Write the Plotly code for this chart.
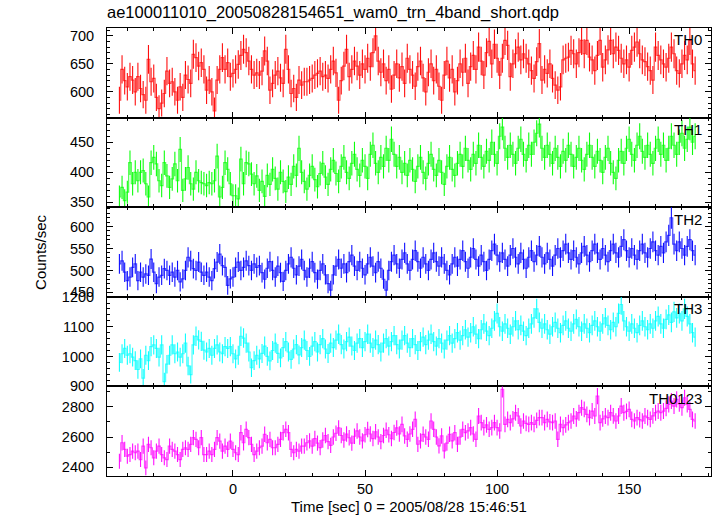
import numpy as np
import plotly.graph_objects as go
from plotly.subplots import make_subplots

# ---------------- data (1 s bins, first bin centre at T0) ----------------
T0 = -43
BIN = 1.0

TH0 = [
    585, 640, 620, 609, 627, 621, 600, 627, 606, 595,
    585, 658, 618, 624, 590, 570, 580, 597, 637, 615,
    618, 600, 585, 609, 590, 630, 622, 615, 667, 661,
    646, 652, 640, 603, 621, 600, 566, 621, 640, 661,
    640, 652, 627, 633, 640, 649, 665, 676, 670, 655,
    640, 630, 634, 630, 637, 673, 655, 603, 615, 630,
    637, 625, 615, 676, 640, 597, 606, 590, 621, 612,
    618, 618, 621, 624, 630, 633, 637, 627, 630, 624,
    640, 655, 634, 585, 620, 646, 676, 627, 640, 655,
    646,
    630, 650, 640, 660, 645, 670, 700, 655, 635, 650,
    620, 640, 605, 630, 650, 625, 645, 615, 660, 640,
    630, 610, 645, 655, 625, 600, 635, 650, 620, 640,
    610, 585, 630, 655, 625, 640, 600, 620, 650, 635,
    660, 615, 645, 665, 640, 680, 655, 630, 670, 690,
    650, 685, 660,
    630, 660, 692, 683, 627, 650, 668, 680, 657, 668,
    660, 650, 638, 624, 654, 686, 621, 640, 633, 650,
    624, 612, 603, 609, 657, 660, 662, 674, 668, 650,
    670, 692, 668, 692, 662, 657, 638, 665, 692, 644,
    657, 675, 692, 668, 680, 674, 660, 650, 657, 644,
    674, 680, 689, 668, 657, 654, 645, 638, 621, 680,
    665, 657, 650, 644, 660, 680, 668, 638, 633, 650,
    665, 657, 692, 650, 638,
]

TH1 = [
    359, 375, 353, 367, 416, 381, 400, 386, 400, 403,
    381, 359, 416, 425, 414, 386, 378, 416, 394, 375,
    389, 414, 386, 438, 370, 389, 408, 381, 372, 400,
    386, 383, 381, 378, 383, 381, 386, 427, 359, 375,
    416, 405, 381, 361, 361, 356, 422, 381, 416, 414,
    397, 381, 394,
    370, 385, 360, 395, 380, 405, 390, 372, 400, 385,
    368, 392, 380, 410, 395, 440, 400, 385, 372, 395,
    410, 388, 376, 398, 415, 392, 380, 405, 420, 398,
    385, 410, 425, 400, 390, 415, 430, 405, 395, 420,
    410, 390, 430, 445, 415, 400, 425, 410, 440, 420,
    455, 430, 410, 425, 400, 415, 395, 420, 405, 385,
    410, 425, 400, 390, 415, 430, 405, 395, 420, 400,
    380, 410, 425, 405, 395, 415, 430, 410, 440, 420,
    405, 430, 415, 445, 425, 410, 435, 420, 450, 430,
    415, 460, 475, 440, 425, 445, 430, 415, 440, 455,
    430, 420, 445, 430, 450, 465, 480, 440, 425, 445,
    430, 415, 440, 425, 410, 435, 420, 445, 430, 410,
    425, 440, 420, 405, 430, 445, 425, 410, 435, 420,
    400, 425, 440, 415, 400, 390, 420, 435, 415, 440,
    455, 430, 420, 445, 460, 435, 425, 445, 430, 415,
    440, 455, 430, 445, 420, 440, 460, 445, 430, 450,
    465, 440, 455, 475, 450, 460,
]

TH2 = [
    515, 522, 496, 477, 485, 507, 515, 477, 496, 485,
    492, 489, 526, 496, 470, 485, 489, 504, 500, 489,
    496, 485, 500, 474, 481, 500, 530, 522, 504, 500,
    519, 496, 489, 496, 485, 477, 504, 519, 537, 511,
    507, 466, 481, 485, 507, 519, 500, 507, 522, 511,
    500, 515, 507, 511,
    495, 480, 505, 520, 500, 485, 510, 495, 475, 500,
    515, 530, 505, 490, 510, 525, 500, 485, 505, 520,
    495, 480, 500, 515, 490, 470, 455, 490, 510, 525,
    505, 515, 495, 520, 535, 510, 500, 520, 505, 490,
    515, 530, 510, 495, 520, 505, 480, 455, 500, 520,
    535, 515, 505, 525, 540, 515, 500, 525, 545, 520,
    505, 530, 515, 500, 525, 540, 520, 510, 530, 515,
    500, 490, 515, 530, 510, 525, 545, 520, 505, 530,
    550, 525, 510, 535, 520, 500, 525, 545, 560, 535,
    520, 540, 525, 510, 535, 550, 530, 515, 540, 525,
    505, 530, 545, 520, 535, 555, 530, 515, 540, 525,
    510, 535, 550, 530, 545, 560, 540, 525, 545, 530,
    515, 540, 555, 535, 520, 545, 560, 540, 525, 550,
    535, 520, 545, 560, 540, 530, 555, 570, 545, 530,
    550, 535, 525, 545, 560, 540, 530, 550, 565, 545,
    535, 555, 540, 565, 580, 620, 560, 545, 565, 550,
    535, 555, 570, 545, 535,
]

TH3 = [
    980, 1009, 1027, 1004, 1009, 998, 986, 956, 992, 927,
    1004, 986, 1033, 1039, 1027, 998, 1039, 915, 974, 1004,
    1039, 1009, 1015, 998, 1009, 1045, 968, 939, 1039, 1068,
    1056, 1051, 1021, 1015, 1027, 1004, 1027, 1039, 1015, 1009,
    1033, 1027, 1033, 1009, 992, 1004, 1068, 1062, 1045, 1015,
    962, 986, 1004, 992,
    1010, 1035, 1000, 985, 1020, 1045, 1010, 995, 1030, 1050,
    1015, 990, 1025, 1040, 1005, 1030, 1055, 1020, 1000, 1035,
    1050, 1015, 1040, 1060, 1025, 1010, 1045, 1030, 1055, 1075,
    1040, 1025, 1050, 1065, 1035, 1020, 1045, 1060, 1030, 1050,
    1075, 1045, 1030, 1055, 1040, 1015, 1045, 1060, 1035, 1050,
    1070, 1040, 1025, 1055, 1070, 1045, 1030, 1060, 1040, 1020,
    1050, 1065, 1040, 1055, 1075, 1050, 1035, 1060, 1045, 1025,
    1055, 1070, 1045, 1060, 1080, 1055, 1070, 1090, 1065, 1080,
    1100, 1075, 1060, 1090, 1110, 1085, 1070, 1095, 1120, 1145,
    1100, 1085, 1110, 1095, 1075, 1100, 1120, 1090, 1105, 1085,
    1070, 1095, 1110, 1130, 1160, 1115, 1095, 1110, 1090, 1075,
    1100, 1115, 1095, 1080, 1105, 1120, 1095, 1085, 1110, 1125,
    1100, 1085, 1110, 1095, 1080, 1105, 1120, 1100, 1085, 1110,
    1130, 1105, 1090, 1115, 1100, 1145, 1175, 1120, 1100, 1085,
    1110, 1095, 1080, 1105, 1120, 1100, 1090, 1110, 1095, 1120,
    1135, 1110, 1095, 1125, 1140, 1115, 1150, 1130, 1145, 1120,
    1160, 1135, 1110, 1080, 1065,
]

TH0123 = [
    2440, 2562, 2518, 2473, 2484, 2507, 2496, 2507, 2451, 2540,
    2396, 2551, 2529, 2462, 2507, 2540, 2484, 2462, 2451, 2540,
    2518, 2507, 2484, 2451, 2518, 2529, 2518, 2551, 2596, 2584,
    2529, 2596, 2484, 2484, 2507, 2484, 2518, 2596, 2573, 2507,
    2540, 2518, 2573, 2518, 2496, 2484, 2629, 2562, 2651, 2596,
    2551, 2484, 2507, 2529, 2540, 2618, 2562, 2584, 2529, 2529,
    2551, 2584, 2629, 2651, 2629, 2518, 2496, 2518, 2507, 2540,
    2540, 2562,
    2575, 2540, 2590, 2560, 2530, 2580, 2610, 2570, 2545, 2600,
    2625, 2660, 2610, 2580, 2620, 2595, 2560, 2605, 2640, 2600,
    2575, 2615, 2650, 2620, 2590, 2635, 2600, 2570, 2610, 2645,
    2615, 2590, 2630, 2660, 2620,
    2684, 2607, 2585, 2620, 2651, 2717, 2552, 2574, 2618, 2600,
    2585, 2706, 2651, 2600, 2541, 2607, 2508, 2560, 2618, 2574,
    2629, 2552, 2600, 2651, 2629, 2640, 2662, 2620, 2585, 2739,
    2695, 2662, 2680, 2651, 2662, 2695, 2662, 2640, 2915, 2684,
    2717, 2695, 2720, 2761, 2739, 2673, 2706, 2690, 2684, 2695,
    2684, 2710, 2728, 2728, 2695, 2717, 2700, 2695, 2706, 2585,
    2684, 2662, 2680, 2695, 2706, 2739, 2720, 2761, 2794, 2783,
    2750, 2728, 2772, 2739, 2871, 2695, 2720, 2739, 2728, 2761,
    2740, 2706, 2739, 2805, 2761, 2770, 2783, 2717, 2706, 2728,
    2715, 2706, 2739, 2728, 2717, 2740, 2761, 2772, 2761, 2772,
    2790, 2816, 2838, 2805, 2849, 2820, 2794, 2860, 2816, 2783,
    2717, 2706,
]

NAMES = ["TH0", "TH1", "TH2", "TH3", "TH0123"]
SERIES = [TH0, TH1, TH2, TH3, TH0123]
X_RANGE = [-47.7, 181.0]
Y_RANGES = [[554, 714], [342, 491], [440, 644], [899, 1201], [2342, 2935]]
Y_DTICK = [50, 50, 50, 100, 200]
Y_MINOR = [10, 10, 10, 20, 100]
COLORS = [(255, 0, 0), (0, 255, 0), (0, 0, 255), (0, 255, 255), (255, 0, 255)]

TITLE = "ae100011010_20050828154651_wam0_trn_4band_short.qdp"
XTITLE = "Time [sec] 0 = 2005/08/28 15:46:51"
YTITLE = "Counts/sec"

FONT = "Liberation Sans, Arial, Helvetica, sans-serif"

fig = make_subplots(rows=5, cols=1, shared_xaxes=True, vertical_spacing=0)

for i, (name, vals, col) in enumerate(zip(NAMES, SERIES, COLORS)):
    v = np.array(vals, dtype=float)
    t = T0 + np.arange(len(v)) * BIN
    err = np.sqrt(v * BIN) / BIN
    r, g, b = col
    fig.add_trace(go.Scatter(
        x=t, y=v, mode="lines",
        line=dict(color=f"rgba({r},{g},{b},0.7)", width=1.2, shape="hvh"),
        error_y=dict(type="data", array=err, visible=True, thickness=1.1,
                     width=0, color=f"rgba({r},{g},{b},0.95)"),
        showlegend=False, hoverinfo="skip",
    ), row=i + 1, col=1)

    fig.update_xaxes(row=i + 1, col=1, range=X_RANGE, tick0=0, dtick=50,
                     ticks="inside", ticklen=6, tickcolor="black", tickwidth=1,
                     showline=True, linecolor="black", linewidth=1, mirror="ticks",
                     showgrid=False, zeroline=False,
                     minor=dict(tick0=0, dtick=10, ticks="inside", ticklen=3,
                                tickcolor="black", showgrid=False),
                     tickfont=dict(family=FONT, size=14.5, color="black"))
    fig.update_yaxes(row=i + 1, col=1, range=Y_RANGES[i], tick0=0, dtick=Y_DTICK[i],
                     ticks="inside", ticklen=6, tickcolor="black", tickwidth=1,
                     showline=True, linecolor="black", linewidth=1, mirror="ticks",
                     showgrid=False, zeroline=False, ticklabelstandoff=9,
                     minor=dict(tick0=0, dtick=Y_MINOR[i], ticks="inside", ticklen=3,
                                tickcolor="black", showgrid=False),
                     tickfont=dict(family=FONT, size=14.5, color="black"))
    sfx = "" if i == 0 else str(i + 1)
    fig.add_annotation(text=name, xref=f"x{sfx} domain", yref=f"y{sfx} domain",
                       x=0.989, y=0.985, xanchor="right", yanchor="top", showarrow=False,
                       font=dict(family=FONT, size=15, color="black"))

fig.update_xaxes(row=5, col=1, showticklabels=True, ticklabelstandoff=0)

fig.add_annotation(text=YTITLE, xref="paper", yref="paper", x=-0.111, y=0.5,
                   xanchor="center", yanchor="middle", textangle=-90, showarrow=False,
                   font=dict(family=FONT, size=15, color="black"))
fig.add_annotation(text=XTITLE, xref="paper", yref="paper", x=0.5, y=-0.069,
                   xanchor="center", yanchor="middle", showarrow=False,
                   font=dict(family=FONT, size=15, color="black"))

fig.update_layout(
    width=717, height=516,
    margin=dict(l=107, r=6, t=28, b=40),
    paper_bgcolor="white", plot_bgcolor="white",
    title=dict(text=TITLE, xref="paper", x=0, xanchor="left",
               yref="container", y=1 - 12 / 516, yanchor="middle",
               font=dict(family=FONT, size=16.5, color="black")),
    font=dict(family=FONT, color="black"),
)

fig.write_html(
    "out.html",
    config={"displayModeBar": False},
    post_script="document.body.style.margin='0px';document.body.style.padding='0px';"
                "document.body.style.overflow='hidden';",
)
